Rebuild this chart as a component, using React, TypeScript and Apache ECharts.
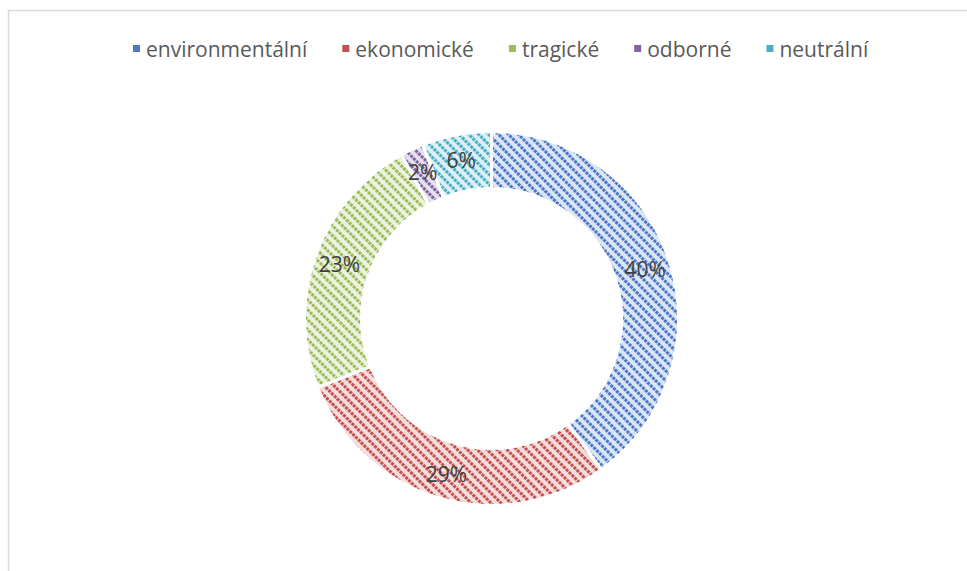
import React, { useEffect, useRef } from "react";
import * as echarts from "echarts";

const categories = ["environmentální", "ekonomické", "tragické", "odborné", "neutrální"];
const values = [40, 29, 23, 2, 6];
const baseColors = ["#dce5f5", "#f4dddc", "#ecf2df", "#e5e0ed", "#dbeff4"];
const stripeColors = ["#4a78c6", "#c4504d", "#9bbb59", "#8064a2", "#4bacc6"];

export default function App() {
  const ref = useRef<HTMLDivElement>(null);
  useEffect(() => {
    document.body.style.margin = "0";
    const chart = echarts.init(ref.current!, null, { renderer: "svg" });
    const data = categories.map((name, i) => ({
      name,
      value: values[i],
      itemStyle: {
        color: baseColors[i],
        decal: {
          symbol: "rect",
          symbolSize: 1,
          dashArrayX: [3, 1],
          dashArrayY: [2.6, 4],
          rotation: Math.PI / 4,
          color: stripeColors[i],
        },
      },
    }));
    chart.setOption({
      animation: false,
      aria: { enabled: true, decal: { show: true } },
      color: stripeColors,
      graphic: [
        {
          type: "rect",
          shape: { x: 8.5, y: 10.5, width: 1000, height: 600 },
          style: { fill: "none", stroke: "#d9d9d9", lineWidth: 1.5 },
          silent: true,
        },
      ],
      legend: {
        top: 33,
        left: 126,
        icon: "rect",
        itemWidth: 9,
        itemHeight: 9,
        itemGap: 33,
        data: categories.map((name, i) => ({ name, itemStyle: { color: stripeColors[i], decal: "none" } })),
        textStyle: { fontSize: 21, color: "#595959", fontFamily: "Open Sans" },
      },
      series: [
        {
          type: "pie",
          center: [491.5, 318.5],
          radius: [130, 187],
          startAngle: 90,
          clockwise: true,
          avoidLabelOverlap: false,
          itemStyle: { borderColor: "#ffffff", borderWidth: 3 },
          label: {
            show: true,
            position: "inside",
            formatter: (p: any) => Math.round(p.percent) + "%",
            fontSize: 21,
            color: "#404040",
            fontFamily: "Open Sans",
          },
          labelLine: { show: false },
          emphasis: { disabled: true },
          data,
        },
      ],
    });
    return () => chart.dispose();
  }, []);
  return <div ref={ref} style={{ width: 967, height: 571 }} />;
}
